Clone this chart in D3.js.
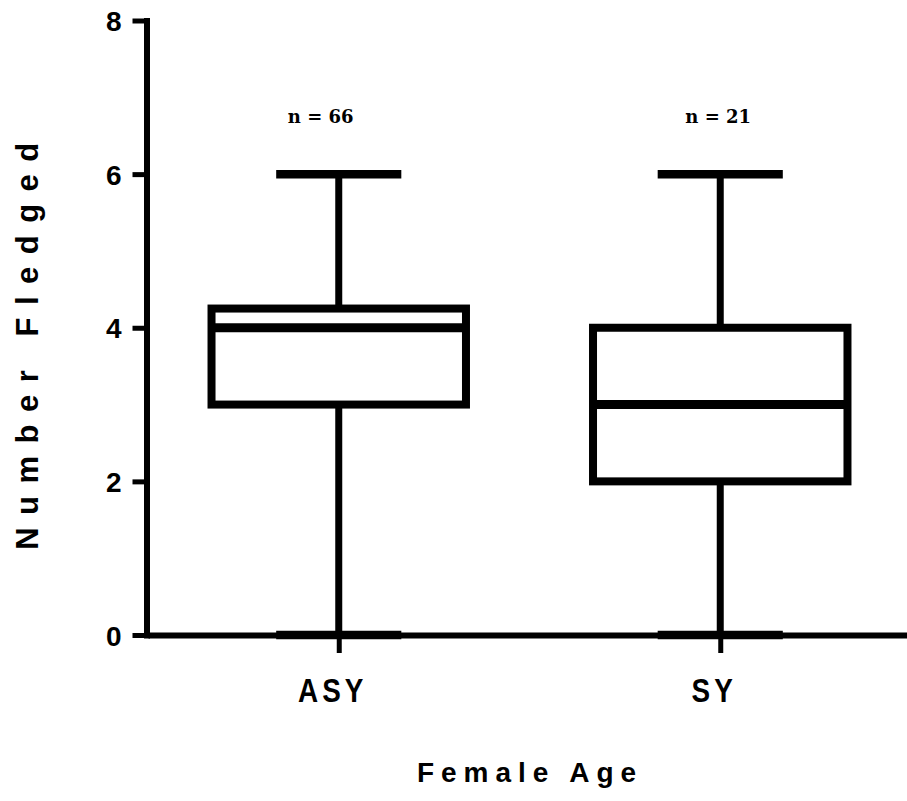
<!DOCTYPE html>
<html>
<head>
<meta charset="utf-8">
<script src="https://cdn.jsdelivr.net/npm/d3@7"></script>
<style>
  body { margin: 0; background: #fff; }
  svg { display: block; }
</style>
</head>
<body>
<div id="chart"></div>
<script>
// data
var categories = ["ASY", "SY"];
var mins    = [0, 0];
var q1s     = [3, 2];
var medians = [4, 3];
var q3s     = [4.25, 4];
var maxs    = [6, 6];
var counts  = [66, 21];
var yTicks  = [0, 2, 4, 6, 8];

(function() {
  var width = 907, height = 801;

  var svg = d3.select("#chart")
    .append("svg")
    .attr("width", width)
    .attr("height", height);

  svg.append("rect")
    .attr("width", width)
    .attr("height", height)
    .attr("fill", "#fff");

  var xPositionScale = d3.scalePoint()
    .domain(categories)
    .range([148, 911])
    .padding(0.5);

  var yPositionScale = d3.scaleLinear()
    .domain([0, 8])
    .range([635, 20.5]);

  var step = xPositionScale.step(),
    boxWidth = step * 0.667,
    capWidth = step * 0.328;

  var boxes = categories.map(function(c, i) {
    return { cat: c, min: mins[i], q1: q1s[i], median: medians[i], q3: q3s[i], max: maxs[i], n: counts[i] };
  });

  // x axis line
  var xAxis = d3.axisBottom(xPositionScale)
    .tickSize(18)
    .tickSizeOuter(0)
    .tickFormat("");

  var xg = svg.append("g")
    .attr("class", "axis x-axis")
    .attr("transform", "translate(0," + yPositionScale(0) + ")")
    .call(xAxis);
  xg.select(".domain").attr("stroke", "#000").attr("stroke-width", 6);
  xg.selectAll(".tick line").attr("stroke", "#000").attr("stroke-width", 5);

  // x tick labels, slightly condensed
  svg.selectAll(".xlabel")
    .data(categories)
    .enter().append("text")
    .attr("class", "xlabel")
    .attr("transform", function(d) {
      return "translate(" + (xPositionScale(d) - 6) + ",702) scale(0.82,1)";
    })
    .attr("text-anchor", "middle")
    .attr("font-family", "Liberation Sans, Arial, sans-serif")
    .attr("font-weight", "bold")
    .attr("font-size", 34)
    .attr("letter-spacing", 5)
    .text(function(d) { return d; });

  // y axis
  var yAxis = d3.axisLeft(yPositionScale)
    .tickValues(yTicks)
    .tickSize(14)
    .tickSizeOuter(0)
    .tickPadding(11);

  var yg = svg.append("g")
    .attr("class", "axis y-axis")
    .attr("transform", "translate(146.5,0)")
    .call(yAxis);
  yg.select(".domain")
    .attr("stroke", "#000")
    .attr("stroke-width", 6)
    .attr("stroke-linecap", "square");
  yg.selectAll(".tick line").attr("stroke", "#000").attr("stroke-width", 5);
  yg.selectAll(".tick text")
    .attr("fill", "#000")
    .attr("font-family", "Liberation Sans, Arial, sans-serif")
    .attr("font-weight", "bold")
    .attr("font-size", 28)
    .attr("dy", "0.36em");

  // whiskers
  svg.selectAll(".whisker-low")
    .data(boxes)
    .enter().append("line")
    .attr("x1", function(d) { return xPositionScale(d.cat); })
    .attr("x2", function(d) { return xPositionScale(d.cat); })
    .attr("y1", function(d) { return yPositionScale(d.min); })
    .attr("y2", function(d) { return yPositionScale(d.q1); })
    .attr("stroke", "#000")
    .attr("stroke-width", 7);

  svg.selectAll(".whisker-high")
    .data(boxes)
    .enter().append("line")
    .attr("x1", function(d) { return xPositionScale(d.cat); })
    .attr("x2", function(d) { return xPositionScale(d.cat); })
    .attr("y1", function(d) { return yPositionScale(d.q3); })
    .attr("y2", function(d) { return yPositionScale(d.max); })
    .attr("stroke", "#000")
    .attr("stroke-width", 7);

  // caps
  ["min", "max"].forEach(function(k) {
    svg.selectAll(".cap-" + k)
      .data(boxes)
      .enter().append("line")
      .attr("x1", function(d) { return xPositionScale(d.cat) - capWidth / 2; })
      .attr("x2", function(d) { return xPositionScale(d.cat) + capWidth / 2; })
      .attr("y1", function(d) { return yPositionScale(d[k]); })
      .attr("y2", function(d) { return yPositionScale(d[k]); })
      .attr("stroke", "#000")
      .attr("stroke-width", 8.5);
  });

  // boxes
  svg.selectAll(".box")
    .data(boxes)
    .enter().append("rect")
    .attr("class", "box")
    .attr("x", function(d) { return xPositionScale(d.cat) - boxWidth / 2; })
    .attr("y", function(d) { return yPositionScale(d.q3); })
    .attr("width", boxWidth)
    .attr("height", function(d) { return yPositionScale(d.q1) - yPositionScale(d.q3); })
    .attr("fill", "#fff")
    .attr("stroke", "#000")
    .attr("stroke-width", 8);

  svg.selectAll(".median")
    .data(boxes)
    .enter().append("line")
    .attr("x1", function(d) { return xPositionScale(d.cat) - boxWidth / 2; })
    .attr("x2", function(d) { return xPositionScale(d.cat) + boxWidth / 2; })
    .attr("y1", function(d) { return yPositionScale(d.median); })
    .attr("y2", function(d) { return yPositionScale(d.median); })
    .attr("stroke", "#000")
    .attr("stroke-width", 9);

  // n labels
  svg.selectAll(".nlabel")
    .data(boxes)
    .enter().append("text")
    .attr("class", "nlabel")
    .attr("x", function(d) { return xPositionScale(d.cat) - (d.cat == "ASY" ? 18 : 2); })
    .attr("y", 123)
    .attr("text-anchor", "middle")
    .attr("font-family", "DejaVu Serif, serif")
    .attr("font-weight", "bold")
    .attr("font-size", 18)
    .text(function(d) { return "n = " + d.n; });

  // axis titles
  svg.append("text")
    .attr("transform", "translate(38,340) rotate(-90)")
    .attr("text-anchor", "middle")
    .attr("font-family", "Liberation Sans, Arial, sans-serif")
    .attr("font-weight", "bold")
    .attr("font-size", 31)
    .attr("letter-spacing", 12.5)
    .text("Number Fledged");

  svg.append("text")
    .attr("x", 530)
    .attr("y", 782)
    .attr("text-anchor", "middle")
    .attr("font-family", "Liberation Sans, Arial, sans-serif")
    .attr("font-weight", "bold")
    .attr("font-size", 28)
    .attr("letter-spacing", 7)
    .text("Female Age");
})();
</script>
</body>
</html>
